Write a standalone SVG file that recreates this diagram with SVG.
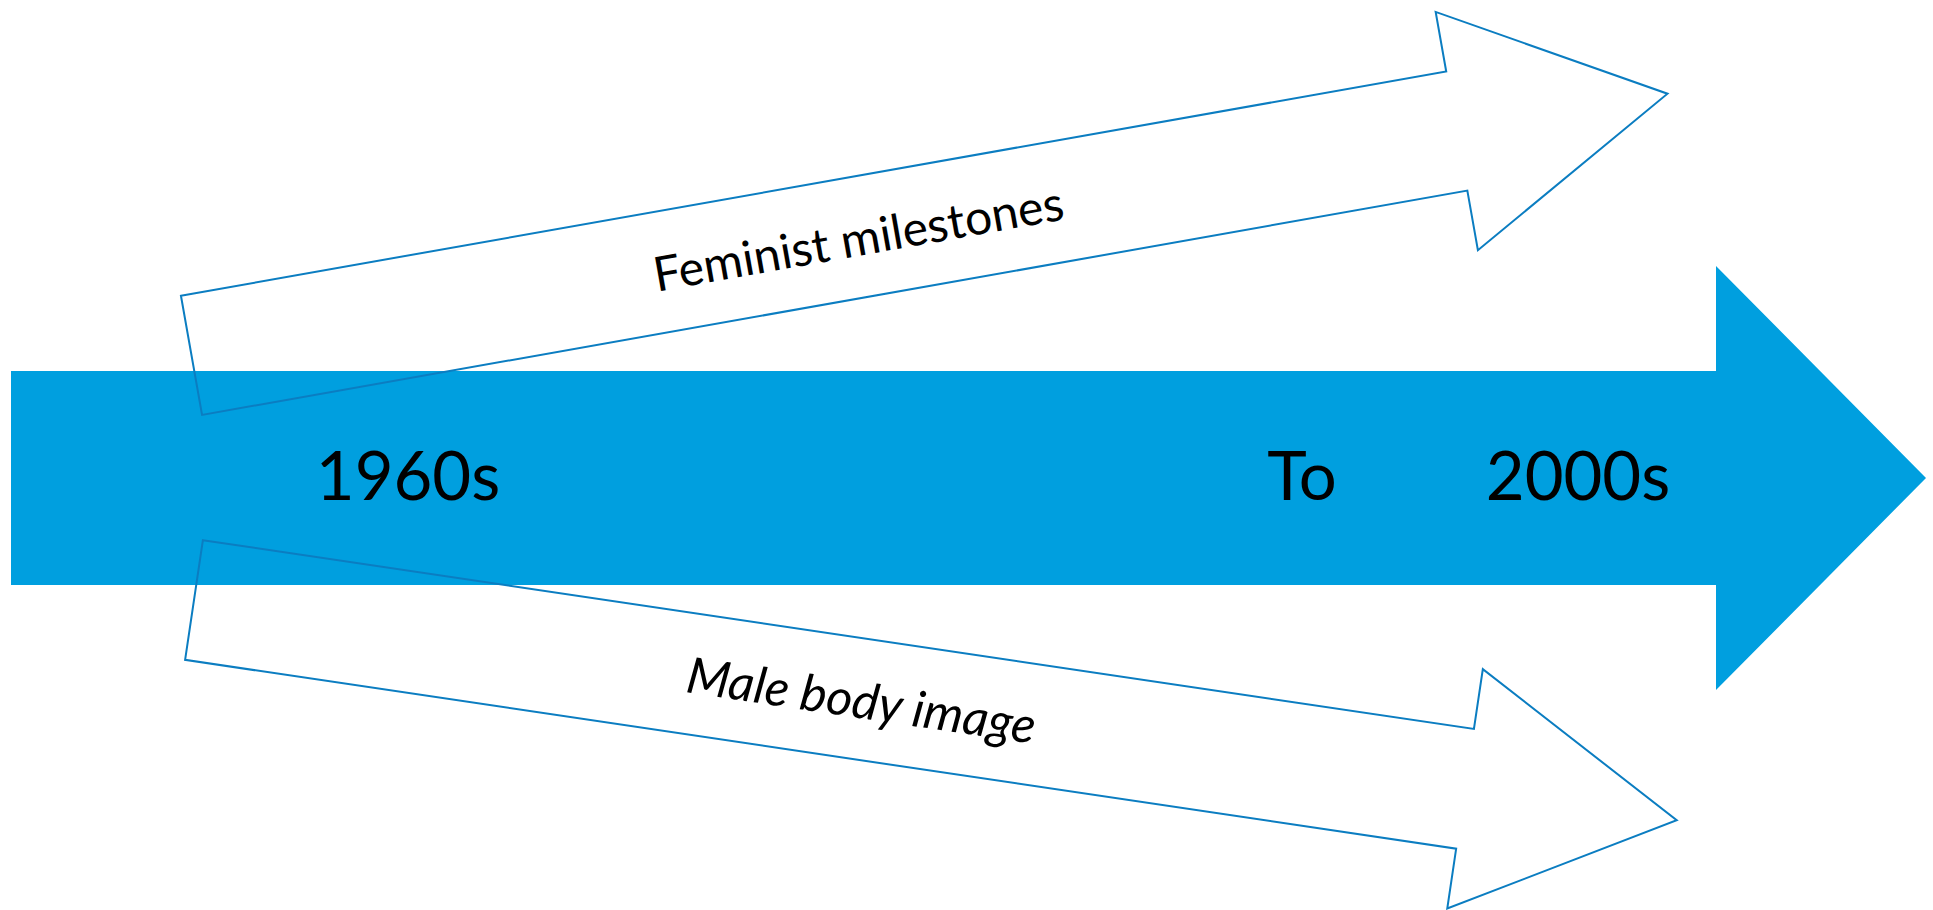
<svg xmlns="http://www.w3.org/2000/svg" width="1933" height="910" viewBox="0 0 1933 910">
  <style>
    .band { fill: #009fdf; stroke: none; }
    .outline { fill: none; stroke: #0b7dc1; stroke-width: 2; stroke-linejoin: miter; }
    .year { font-family: Lato, "Liberation Sans", sans-serif; font-size: 67px; fill: #000; text-anchor: middle; }
    .label { font-family: Lato, "Liberation Sans", sans-serif; font-size: 48px; fill: #000; text-anchor: middle; dominant-baseline: central; }
    .italic { font-style: italic; font-size: 50px; }
  </style>
  <defs>
    <path id="slantArrow" d="M0,-60.5 L1285,-60.5 L1285,-121 L1499,0 L1285,121 L1285,60.5 L0,60.5 Z"/>
  </defs>

  <g id="timeline">
    <path class="band" d="M11,371 L1716,371 L1716,266 L1926,478 L1716,690 L1716,585 L11,585 Z"/>
  </g>

  <g id="feminist-milestones" transform="translate(191.5,355.3) rotate(-10.05)">
    <use href="#slantArrow" class="outline"/>
    <text class="label" x="677" y="0">Feminist milestones</text>
  </g>

  <g id="male-body-image" transform="translate(194,600) rotate(8.45)">
    <use href="#slantArrow" class="outline"/>
    <text class="label italic" x="675" y="0">Male body image</text>
  </g>

  <g id="year-1960s"><text class="year" x="408" y="500">1960s</text></g>
  <g id="year-to"><text class="year" x="1302" y="500">To</text></g>
  <g id="year-2000s"><text class="year" x="1578" y="500">2000s</text></g>
</svg>
